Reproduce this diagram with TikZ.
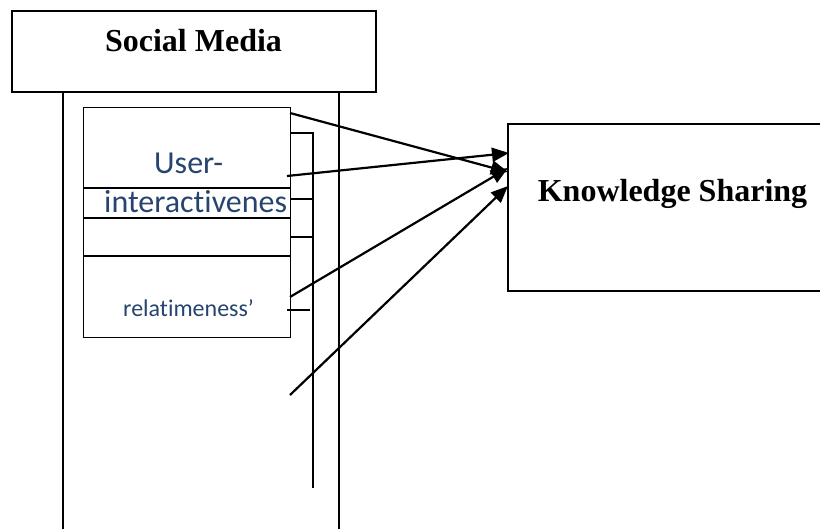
\documentclass[tikz,border=0pt]{standalone}
\usepackage{fontspec}
\setmainfont{Liberation Serif}
\newfontfamily\calibri[Ligatures=NoCommon]{Carlito}
\usetikzlibrary{arrows.meta}
\definecolor{labelblue}{RGB}{38,68,110}
\tikzset{
  frame/.style={draw=black, line width=1.8pt},
  thinline/.style={draw=black, line width=1.4pt},
  link/.style={draw=black, line width=2.2pt, -{Triangle[length=17pt,width=14pt]}},
  title/.style={font=\bfseries\fontsize{32}{38}\selectfont, inner sep=0pt, anchor=base},
  blue/.style={text=labelblue, inner sep=0pt, anchor=base west}
}
\begin{document}
\begin{tikzpicture}[x=1pt,y=-1pt]
\useasboundingbox (0,0) rectangle (820,529);
\clip (0,0) rectangle (820,529);

% Social Media header and its column
\node[frame, minimum width=364pt, minimum height=81pt, inner sep=0pt, anchor=north west] (sm) at (11,10) {};
\node[title] (smtext) at (193.5,52) {Social Media};
\draw[thinline] (63,91) -- (63,530);
\draw[thinline] (339,91) -- (339,530);

% stacked inner box
\node[thinline, minimum width=207pt, minimum height=230pt, inner sep=0pt, anchor=north west] (inner) at (83,107) {};
\draw[thinline] (83,188) -- (290,188);
\draw[thinline] (83,218) -- (290,218);
\draw[thinline] (83,256) -- (290,256);
\node[blue, font=\calibri\fontsize{32}{38}\selectfont] (user) at (154,174) {User-};
\node[blue, font=\calibri\fontsize{32}{38}\selectfont] (inter) at (104,213) {interactivenes};
\node[blue, font=\calibri\fontsize{24}{28}\selectfont] (rel) at (123,317) {relatimeness’};

% bracket beside the inner box
\coordinate (b0) at (290,133);
\coordinate (b1) at (313,133);
\coordinate (b2) at (313,488);
\draw[thinline] (b0) -- (b1) -- (b2);
\draw[thinline] (290,199) -- (313,199);
\draw[thinline] (290,237) -- (313,237);
\draw[thinline] (287,310) -- (310,310);

% Knowledge Sharing box (runs past the right edge)
\draw[frame] (830,124) -- (508,124) -- (508,291) -- (830,291);
\coordinate (ks) at (508,124);
\node[title] (kstext) at (672.5,202) {Knowledge Sharing};

% arrows into Knowledge Sharing
\coordinate (s1) at (290,113);
\coordinate (s2) at (287,176);
\coordinate (s3) at (290,297);
\coordinate (s4) at (290,395);
\coordinate (t1) at (508,172);
\coordinate (t2) at (509,153);
\coordinate (t3) at (508,168);
\coordinate (t4) at (508,186);
\draw[link] (s1) -- (t1);
\draw[link] (s2) -- (t2);
\draw[link] (s3) -- (t3);
\draw[link] (s4) -- (t4);
\end{tikzpicture}
\end{document}
